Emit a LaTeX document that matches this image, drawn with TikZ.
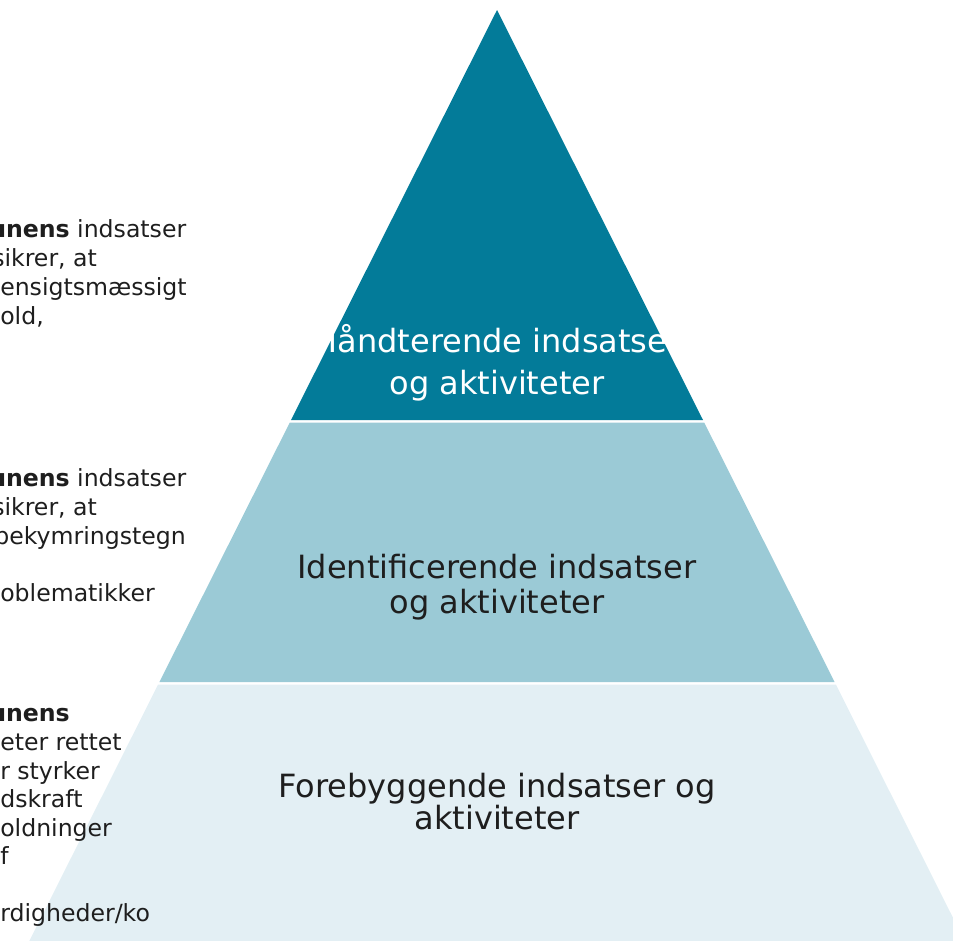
\documentclass[tikz,border=0pt]{standalone}
\usepackage{fontspec}
\setmainfont{DejaVu Sans}
\definecolor{tierA}{HTML}{037B99}
\definecolor{tierB}{HTML}{9BCAD6}
\definecolor{tierC}{HTML}{E3EFF4}
\definecolor{ink}{HTML}{1E1E1E}
\begin{document}
\begin{tikzpicture}[x=0.75pt,y=-0.75pt,
  tiertext/.style={font=\fontsize{24}{30}\selectfont, anchor=base, inner sep=0pt},
  sidetext/.style={font=\fontsize{17.7}{21.5}\selectfont, anchor=base west, inner sep=0pt, text=ink}]
\useasboundingbox (0,0) rectangle (953,940);
\clip (0,0) rectangle (953,940);
% tiers
\fill[tierC] (158.1,684.5) -- (835.9,684.5) -- (969.2,950) -- (24.8,950) -- cycle;
\fill[tierB] (289.8,422.5) -- (704.2,422.5) -- (834.6,682) -- (159.4,682) -- cycle;
\fill[tierA] (497,10) -- (703,420) -- (291,420) -- cycle;
% tier labels
\node[tiertext, text=white] (hA1) at (497,352) {Håndterende indsatser};
\node[tiertext, text=white] (hA2) at (497,394) {og aktiviteter};
\node[tiertext, text=ink] (hB1) at (497,578) {Identificerende indsatser};
\node[tiertext, text=ink] (hB2) at (497,613) {og aktiviteter};
\node[tiertext, text=ink] (hC1) at (497,797) {Forebyggende indsatser og};
\node[tiertext, text=ink] (hC2) at (497,829) {aktiviteter};
% side text, top block
\node[sidetext] (a1) at (-11,237) {\textbf{unens} indsatser};
\node[sidetext] (a2) at (-8,266) {sikrer, at};
\node[sidetext] (a3) at (0,295) {ensigtsmæssigt};
\node[sidetext] (a4) at (0,324) {old,};
% side text, middle block
\node[sidetext] (b1) at (-11,486) {\textbf{unens} indsatser};
\node[sidetext] (b2) at (-8,515) {sikrer, at};
\node[sidetext] (b3) at (-6,544) {bekymringstegn};
\node[sidetext] (b4) at (0,601) {oblematikker};
% side text, bottom block
\node[sidetext] (c1) at (-11,721) {\textbf{unens}};
\node[sidetext] (c2) at (0,750) {eter rettet};
\node[sidetext] (c3) at (0,779) {r styrker};
\node[sidetext] (c4) at (0,807) {dskraft};
\node[sidetext] (c5) at (0,836) {oldninger};
\node[sidetext] (c6) at (0,864) {f};
\node[sidetext] (c7) at (0,921) {rdigheder/ko};
\end{tikzpicture}
\end{document}
